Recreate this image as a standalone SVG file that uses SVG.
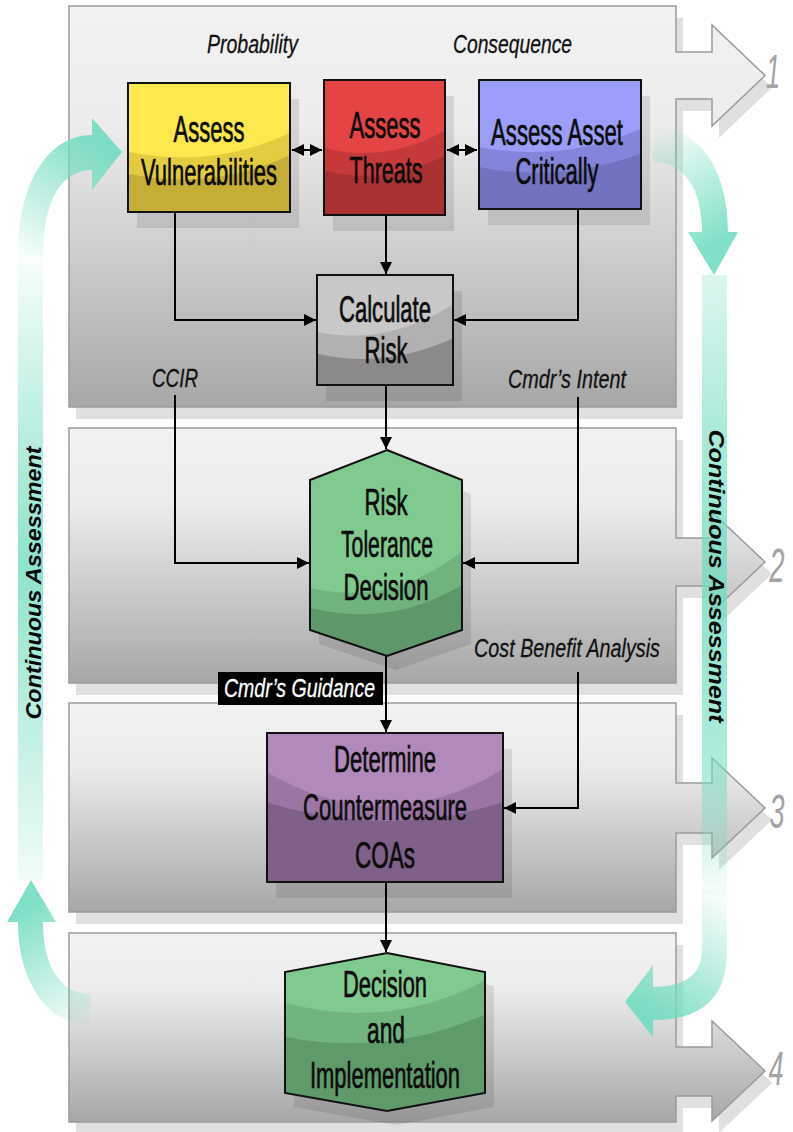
<svg xmlns="http://www.w3.org/2000/svg" width="793" height="1132" viewBox="0 0 793 1132">
<defs>
<style>
.panel{stroke:#9a9a9a;stroke-width:1.5;fill:url(#gPanel)}
.pshadow{fill:#e0e0e0}
.num{font-family:"Liberation Sans",Arial,sans-serif;font-style:italic;font-size:48px;fill:#a3a3a3}
.nshadow{fill:#000;opacity:0.1}
.outline{fill:none;stroke:#111;stroke-width:2}
.lbl{font-family:"Liberation Sans",Arial,sans-serif;font-size:37px;text-anchor:middle;fill:#0c0c0c;stroke:#0c0c0c;stroke-width:0.7}
.it{font-family:"Liberation Sans",Arial,sans-serif;font-style:italic;font-size:26px;fill:#111;stroke:#111;stroke-width:0.3}
.ca{font-family:"Liberation Sans",Arial,sans-serif;font-style:italic;font-weight:bold;font-size:22px;fill:#0a0a0a;text-anchor:middle}
.conn{fill:none;stroke:#000;stroke-width:2}
</style>
<linearGradient id="gPanel" x1="0" y1="0" x2="0" y2="1">
<stop offset="0" stop-color="#f2f2f2"/>
<stop offset="0.3" stop-color="#ececec"/>
<stop offset="1" stop-color="#a7a7a7"/>
</linearGradient>
<marker id="ah" viewBox="0 0 12 12" refX="12" refY="6" markerWidth="12" markerHeight="12" markerUnits="userSpaceOnUse" orient="auto-start-reverse">
<path d="M0,0 L12,6 L0,12 Z" fill="#000"/>
</marker>
<linearGradient id="tTL" gradientUnits="userSpaceOnUse" x1="30" y1="265" x2="105" y2="150">
<stop offset="0" stop-color="#72dcc0" stop-opacity="0.03"/>
<stop offset="1" stop-color="#72dcc0" stop-opacity="0.9"/>
</linearGradient>
<linearGradient id="tLV" gradientUnits="userSpaceOnUse" x1="0" y1="250" x2="0" y2="885">
<stop offset="0" stop-color="#72dcc0" stop-opacity="0.03"/>
<stop offset="0.22" stop-color="#72dcc0" stop-opacity="0.4"/>
<stop offset="0.5" stop-color="#72dcc0" stop-opacity="0.8"/>
<stop offset="0.82" stop-color="#72dcc0" stop-opacity="0.35"/>
<stop offset="1" stop-color="#72dcc0" stop-opacity="0.08"/>
</linearGradient>
<linearGradient id="tBL" gradientUnits="userSpaceOnUse" x1="31" y1="905" x2="95" y2="1015">
<stop offset="0" stop-color="#72dcc0" stop-opacity="0.9"/>
<stop offset="1" stop-color="#72dcc0" stop-opacity="0.08"/>
</linearGradient>
<linearGradient id="tTR" gradientUnits="userSpaceOnUse" x1="650" y1="140" x2="714" y2="245">
<stop offset="0" stop-color="#72dcc0" stop-opacity="0.05"/>
<stop offset="1" stop-color="#72dcc0" stop-opacity="0.9"/>
</linearGradient>
<linearGradient id="tRV" gradientUnits="userSpaceOnUse" x1="0" y1="275" x2="0" y2="900">
<stop offset="0" stop-color="#72dcc0" stop-opacity="0.25"/>
<stop offset="0.25" stop-color="#72dcc0" stop-opacity="0.6"/>
<stop offset="0.5" stop-color="#72dcc0" stop-opacity="0.8"/>
<stop offset="0.8" stop-color="#72dcc0" stop-opacity="0.55"/>
<stop offset="1" stop-color="#72dcc0" stop-opacity="0.03"/>
</linearGradient>
<linearGradient id="tBR" gradientUnits="userSpaceOnUse" x1="715" y1="890" x2="640" y2="1005">
<stop offset="0" stop-color="#72dcc0" stop-opacity="0.03"/>
<stop offset="1" stop-color="#72dcc0" stop-opacity="0.9"/>
</linearGradient>
<clipPath id="cVuln"><rect x="128" y="83" width="162" height="129"/></clipPath>
<clipPath id="cThr"><rect x="324" y="80" width="121" height="135"/></clipPath>
<clipPath id="cAss"><rect x="479" y="80" width="162" height="129"/></clipPath>
<clipPath id="cCalc"><rect x="317" y="275" width="136" height="110"/></clipPath>
<clipPath id="cRisk"><path d="M387,450 L462,480 L462,630 L387,656 L310,630 L310,480 Z"/></clipPath>
<clipPath id="cCoa"><rect x="267" y="733" width="236" height="149"/></clipPath>
<clipPath id="cDec"><path d="M387,953 L485,972 L485,1093 L387,1111 L285,1093 L285,972 Z"/></clipPath>
</defs>

<g id="lanes">
<g id="lane-1">
<path class="pshadow" transform="translate(7,12)" d="M69,6 H676 V52 H712 V25 L765,75.5 L712,126 V99 H676 V407 H69 Z"/>
<path class="panel" d="M69,6 H676 V52 H712 V25 L765,75.5 L712,126 V99 H676 V407 H69 Z"/>
<text class="num" x="773" y="88" text-anchor="middle" textLength="14" lengthAdjust="spacingAndGlyphs">1</text>
</g>
<g id="lane-2">
<path class="pshadow" transform="translate(7,12)" d="M69,428 H676 V538 H712 V512 L765,562 L712,612 V586 H676 V683 H69 Z"/>
<path class="panel" d="M69,428 H676 V538 H712 V512 L765,562 L712,612 V586 H676 V683 H69 Z"/>
<text class="num" x="777" y="582" text-anchor="middle" textLength="15" lengthAdjust="spacingAndGlyphs">2</text>
</g>
<g id="lane-3">
<path class="pshadow" transform="translate(7,12)" d="M69,703 H676 V783 H712 V758 L765,808 L712,858 V833 H676 V912 H69 Z"/>
<path class="panel" d="M69,703 H676 V783 H712 V758 L765,808 L712,858 V833 H676 V912 H69 Z"/>
<text class="num" x="777" y="828" text-anchor="middle" textLength="15" lengthAdjust="spacingAndGlyphs">3</text>
</g>
<g id="lane-4">
<path class="pshadow" transform="translate(7,12)" d="M69,933 H676 V1047 H712 V1021 L765,1071 L712,1121 V1096 H676 V1122 H69 Z"/>
<path class="panel" d="M69,933 H676 V1047 H712 V1021 L765,1071 L712,1121 V1096 H676 V1122 H69 Z"/>
<text class="num" x="776" y="1085" text-anchor="middle" textLength="15" lengthAdjust="spacingAndGlyphs">4</text>
</g>
</g>

<g id="continuous-left">
<path fill="url(#tTL)" d="M18,255 C18,180 50,135 92,135 L92,118 L122,152 L92,190 L92,170 C62,170 43,200 43,255 Z"/>
<rect x="18" y="255" width="25" height="625" fill="url(#tLV)"/>
<path fill="url(#tBL)" d="M31,880 L56,922 L43,922 C43,965 60,994 90,994 L90,1025 C50,1025 18,985 18,922 L7,922 Z"/>
<text class="ca" transform="translate(41,583) rotate(-90)" x="0" y="0" textLength="273" lengthAdjust="spacingAndGlyphs">Continuous Assessment</text>
</g>
<g id="continuous-right">
<path fill="url(#tTR)" d="M653,127 C700,127 728,170 728,232 L738,232 L714,275 L688,232 L702,232 C702,190 685,162 653,162 Z"/>
<rect x="702" y="275" width="25" height="620" fill="url(#tRV)"/>
<path fill="url(#tBR)" d="M727,890 L727,950 C727,1000 700,1020 653,1020 L653,1037 L625,1002 L653,965 L653,987 C690,987 702,970 702,950 L702,890 Z"/>
<text class="ca" transform="translate(709,576) rotate(90)" x="0" y="0" textLength="293" lengthAdjust="spacingAndGlyphs">Continuous Assessment</text>
</g>

<g id="node-vulnerabilities">
<rect class="nshadow" x="137" y="99" width="162" height="129"/>
<g clip-path="url(#cVuln)">
<rect x="128" y="83" width="162" height="129" fill="#c5ae36"/>
<path d="M120,75 H300 V150 Q215,194 120,172 Z" fill="#e3cc40"/>
<path d="M120,75 H300 V128 Q215,172 120,150 Z" fill="#ffe84d"/>
</g>
<rect class="outline" x="128" y="83" width="162" height="129"/>
<text class="lbl" x="209" y="142" textLength="71" lengthAdjust="spacingAndGlyphs">Assess</text>
<text class="lbl" x="209" y="185" textLength="136" lengthAdjust="spacingAndGlyphs">Vulnerabilities</text>
</g>

<g id="node-threats">
<rect class="nshadow" x="333" y="96" width="121" height="135"/>
<g clip-path="url(#cThr)">
<rect x="324" y="80" width="121" height="135" fill="#a93131"/>
<path d="M315,70 H455 V150 Q385,190 315,168 Z" fill="#c53939"/>
<path d="M315,70 H455 V125 Q385,168 315,145 Z" fill="#e44444"/>
</g>
<rect class="outline" x="324" y="80" width="121" height="135"/>
<text class="lbl" x="385" y="138" textLength="71" lengthAdjust="spacingAndGlyphs">Assess</text>
<text class="lbl" x="386" y="183" textLength="73" lengthAdjust="spacingAndGlyphs">Threats</text>
</g>

<g id="node-asset">
<rect class="nshadow" x="488" y="96" width="162" height="129"/>
<g clip-path="url(#cAss)">
<rect x="479" y="80" width="162" height="129" fill="#7172c0"/>
<path d="M470,70 H650 V150 Q560,186 470,165 Z" fill="#8385da"/>
<path d="M470,70 H650 V125 Q560,166 470,145 Z" fill="#9b9ef8"/>
</g>
<rect class="outline" x="479" y="80" width="162" height="129"/>
<text class="lbl" x="557" y="145" textLength="132" lengthAdjust="spacingAndGlyphs">Assess Asset</text>
<text class="lbl" x="557" y="184" textLength="83" lengthAdjust="spacingAndGlyphs">Critically</text>
</g>

<g id="node-calculate">
<rect class="nshadow" x="326" y="291" width="136" height="110"/>
<g clip-path="url(#cCalc)">
<rect x="317" y="275" width="136" height="110" fill="#8b8989"/>
<path d="M310,268 H460 V335 Q385,372 310,352 Z" fill="#b2b0b0"/>
<path d="M310,268 H460 V300 Q385,350 310,330 Z" fill="#c9c7c7"/>
</g>
<rect class="outline" x="317" y="275" width="136" height="110"/>
<text class="lbl" x="385" y="322" textLength="92" lengthAdjust="spacingAndGlyphs">Calculate</text>
<text class="lbl" x="386" y="363" textLength="43" lengthAdjust="spacingAndGlyphs">Risk</text>
</g>

<g id="node-risk-tolerance">
<path class="nshadow" transform="translate(9,14)" d="M387,450 L462,480 L462,630 L387,656 L310,630 L310,480 Z"/>
<g clip-path="url(#cRisk)">
<rect x="305" y="445" width="165" height="215" fill="#5e986a"/>
<path d="M300,440 H470 V580 Q390,632 300,605 Z" fill="#71b37e"/>
<path d="M300,440 H470 V545 Q390,612 300,585 Z" fill="#81ca8f"/>
</g>
<path class="outline" d="M387,450 L462,480 L462,630 L387,656 L310,630 L310,480 Z"/>
<text class="lbl" x="386" y="515" textLength="43" lengthAdjust="spacingAndGlyphs">Risk</text>
<text class="lbl" x="387" y="557" textLength="92" lengthAdjust="spacingAndGlyphs">Tolerance</text>
<text class="lbl" x="386" y="600" textLength="85" lengthAdjust="spacingAndGlyphs">Decision</text>
</g>

<g id="node-coa">
<rect class="nshadow" x="276" y="749" width="236" height="149"/>
<g clip-path="url(#cCoa)">
<rect x="267" y="733" width="236" height="149" fill="#7f6089"/>
<path d="M260,725 H510 V800 Q385,842 260,800 Z" fill="#9b76a5"/>
<path d="M260,725 H510 V765 Q385,845 260,768 Z" fill="#b189ba"/>
</g>
<rect class="outline" x="267" y="733" width="236" height="149"/>
<text class="lbl" x="385" y="772" textLength="102" lengthAdjust="spacingAndGlyphs">Determine</text>
<text class="lbl" x="385" y="820" textLength="164" lengthAdjust="spacingAndGlyphs">Countermeasure</text>
<text class="lbl" x="385" y="868" textLength="60" lengthAdjust="spacingAndGlyphs">COAs</text>
</g>

<g id="node-decision">
<path class="nshadow" transform="translate(9,14)" d="M387,953 L485,972 L485,1093 L387,1111 L285,1093 L285,972 Z"/>
<g clip-path="url(#cDec)">
<rect x="280" y="948" width="210" height="170" fill="#5f9a6a"/>
<path d="M275,945 H495 V1010 Q390,1060 275,1035 Z" fill="#72b47f"/>
<path d="M275,945 H495 V975 Q390,1035 275,1000 Z" fill="#81ca8f"/>
</g>
<path class="outline" d="M387,953 L485,972 L485,1093 L387,1111 L285,1093 L285,972 Z"/>
<text class="lbl" x="385" y="997" textLength="84" lengthAdjust="spacingAndGlyphs">Decision</text>
<text class="lbl" x="386" y="1043" textLength="38" lengthAdjust="spacingAndGlyphs">and</text>
<text class="lbl" x="385" y="1088" textLength="150" lengthAdjust="spacingAndGlyphs">Implementation</text>
</g>

<g id="labels">
<text class="it" x="207" y="53" textLength="91" lengthAdjust="spacingAndGlyphs">Probability</text>
<text class="it" x="453" y="53" textLength="119" lengthAdjust="spacingAndGlyphs">Consequence</text>
<text class="it" x="152" y="387" textLength="46" lengthAdjust="spacingAndGlyphs">CCIR</text>
<text class="it" x="508" y="388" textLength="118" lengthAdjust="spacingAndGlyphs">Cmdr’s Intent</text>
<text class="it" x="474" y="657" textLength="186" lengthAdjust="spacingAndGlyphs">Cost Benefit Analysis</text>
</g>

<g id="connectors">
<line class="conn" x1="292" y1="150" x2="322" y2="150" marker-start="url(#ah)" marker-end="url(#ah)"/>
<line class="conn" x1="447" y1="150" x2="477" y2="150" marker-start="url(#ah)" marker-end="url(#ah)"/>
<path class="conn" d="M175,212 V320 H316" marker-end="url(#ah)"/>
<path class="conn" d="M386,215 V274" marker-end="url(#ah)"/>
<path class="conn" d="M578,209 V320 H454" marker-end="url(#ah)"/>
<path class="conn" d="M386,385 V449" marker-end="url(#ah)"/>
<path class="conn" d="M175,395 V563 H309" marker-end="url(#ah)"/>
<path class="conn" d="M578,397 V563 H463" marker-end="url(#ah)"/>
<path class="conn" d="M386,656 V732" marker-end="url(#ah)"/>
<path class="conn" d="M578,672 V808 H504" marker-end="url(#ah)"/>
<path class="conn" d="M386,882 V952" marker-end="url(#ah)"/>
</g>

<g id="guidance-label">
<rect x="218" y="672" width="165" height="33" fill="#000"/>
<text class="it" x="224" y="697" style="fill:#fff;stroke:#fff" textLength="151" lengthAdjust="spacingAndGlyphs">Cmdr’s Guidance</text>
</g>
</svg>
